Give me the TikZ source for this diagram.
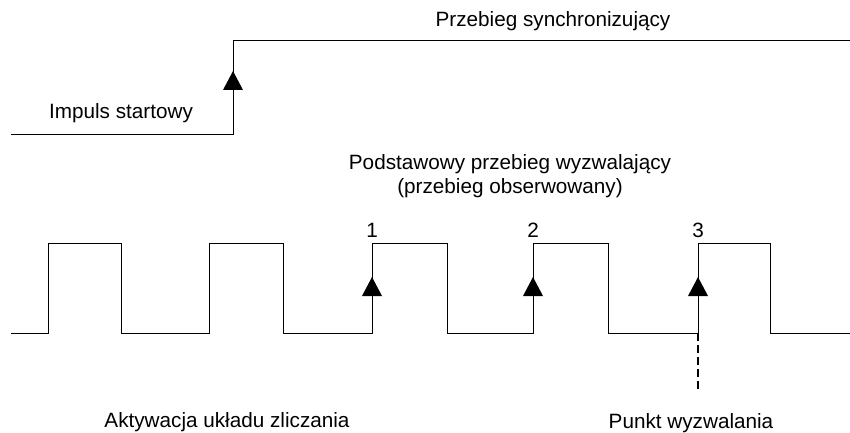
\documentclass[tikz,border=0pt]{standalone}
\usepackage{fontspec}
\setmainfont{Liberation Sans}

\begin{document}
\begin{tikzpicture}[x=1pt,y=-1pt,
    wave/.style={line width=1pt},
    txt/.style={inner sep=0pt,anchor=base,align=center,font=\fontsize{20.7}{24}\selectfont}]
    \useasboundingbox (0,0) rectangle (850,433);
    \draw[wave] (11,134) -- (233,134) -- (233,41) -- (850,41);
    \draw[wave] (11,333) -- (48,333) |- (121,243) |- (209,333) |- (283,243)
        |- (372,333) |- (447,243) |- (533,333) |- (608,243) |- (698,333)
        |- (770,243) |- (850,333);
    \foreach \x/\y in {233/71, 372/277, 533/277, 698/277}
        \fill (\x,\y) -- ++(10,19) -- ++(-20,0) -- cycle;
    \coordinate (edge) at (698,333);
    \coordinate (tick) at (698,389);
    \draw[line width=1.4pt,dash pattern=on 8pt off 4pt] (edge) -- (tick);
    \node[txt] (sync) at (553,27) {Przebieg synchronizujący};
    \node[txt] (start) at (121,118) {Impuls startowy};
    \node[txt] (basic) at (510,193) {Podstawowy przebieg wyzwalający\\(przebieg obserwowany)};
    \node[txt] (n1) at (372,237) {1};
    \node[txt] (n2) at (533,237) {2};
    \node[txt] (n3) at (698,237) {3};
    \node[txt] (count) at (227,427) {Aktywacja układu zliczania};
    \node[txt] (trig) at (691,428) {Punkt wyzwalania};
\end{tikzpicture}
\end{document}
